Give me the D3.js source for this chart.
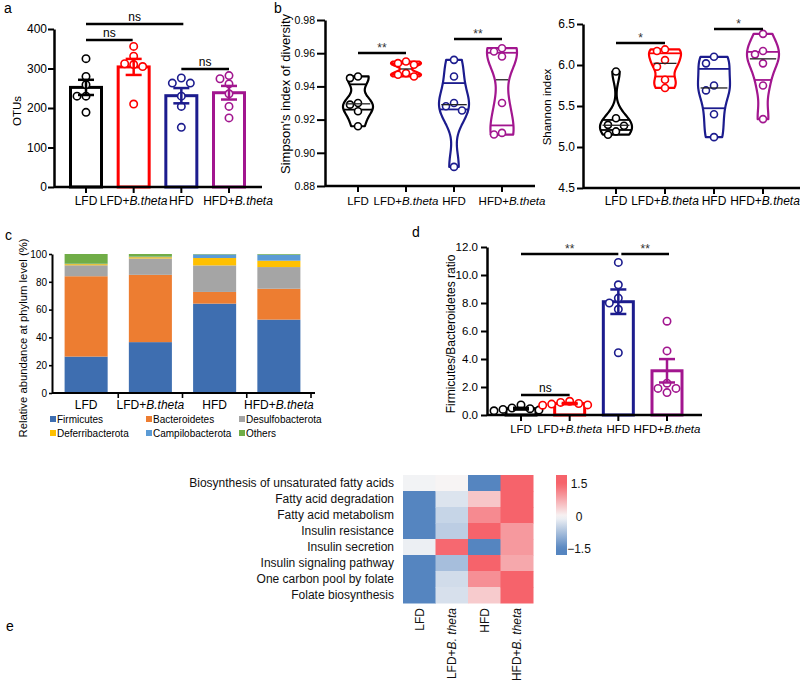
<!DOCTYPE html>
<html><head><meta charset="utf-8">
<script src="https://cdn.jsdelivr.net/npm/d3@7"></script>
<style>body{margin:0;background:#fff}svg{font-family:"Liberation Sans",Arial,sans-serif}</style>
</head><body><svg id="c" width="800" height="683"></svg>
<script>
// ---------------- DATA ----------------
const groups = ["LFD", "LFD+B.theta", "HFD", "HFD+B.theta"];
const groupColors = ["#000000", "#ff0000", "#1c1c8e", "#a2168f"];

// panel a: OTUs (individual mice)
const otuLFD = [325, 280, 259, 230, 230, 189];
const otuLFDB = [356, 331, 312, 310, 305, 210];
const otuHFD = [276, 263, 263, 230, 204, 151];
const otuHFDB = [282, 274, 261, 236, 204, 175];
const otuTicks = [0, 100, 200, 300, 400];

// panel b: Simpson / Shannon
const simpLFD = [0.946, 0.945, 0.930, 0.929, 0.925, 0.916];
const simpLFDB = [0.955, 0.954, 0.953, 0.948, 0.947, 0.946];
const simpHFD = [0.956, 0.946, 0.930, 0.928, 0.9255, 0.8915];
const simpHFDB = [0.963, 0.961, 0.958, 0.930, 0.912, 0.911];
const simpTicks = [0.88, 0.90, 0.92, 0.94, 0.96, 0.98];

const shanLFD = [5.92, 5.35, 5.27, 5.26, 5.19, 5.15];
const shanLFDB = [6.19, 6.17, 6.06, 5.98, 5.82, 5.72];
const shanHFD = [6.10, 6.02, 5.75, 5.69, 5.40, 5.12];
const shanHFDB = [6.38, 6.17, 6.13, 6.02, 5.75, 5.34];
const shanTicks = [4.5, 5.0, 5.5, 6.0, 6.5];

// panel c: phylum relative abundance (%)
const phyla = ["Firmicutes", "Bacteroidetes", "Desulfobacterota", "Deferribacterota", "Campilobacterota", "Others"];
const phylumColors = ["#3e6eb0", "#ed7d31", "#a5a5a5", "#ffc000", "#5b9bd5", "#70ad47"];
const abFirmicutes = [26.2, 36.6, 64.3, 52.8];
const abBacteroidetes = [57.8, 48.4, 8.4, 22.2];
const abDesulfobacterota = [7.9, 11.8, 19.1, 15.6];
const abDeferribacterota = [0.8, 0.9, 5.3, 4.6];
const abCampilobacterota = [0.3, 0.4, 2.6, 4.3];
const abOthers = [7.0, 1.9, 0.3, 0.5];
const abTicks = [0, 20, 40, 60, 80, 100];

// panel d: Firmicutes/Bacteroidetes ratio
const fbLFD = [0.72, 0.50, 0.45, 0.40, 0.35, 0.30];
const fbLFDB = [0.98, 0.90, 0.82, 0.78, 0.72, 0.70];
const fbHFD = [10.9, 9.3, 8.35, 8.0, 7.55, 4.45];
const fbHFDB = [6.7, 4.58, 2.27, 1.9, 1.9, 1.6];
const fbTicks = [0, 2, 4, 6, 8, 10, 12];

// panel e: heatmap (z-scores)
const pathways = ["Biosynthesis of unsaturated fatty acids", "Fatty acid degradation", "Fatty acid metabolism",
  "Insulin resistance", "Insulin secretion", "Insulin signaling pathway", "One carbon pool by folate", "Folate biosynthesis"];
const heatColumns = ["LFD", "LFD+B. theta", "HFD", "HFD+B. theta"];
const hmLFD = [-0.05, -1.5, -1.5, -1.5, -0.1, -1.5, -1.5, -1.5];
const hmLFDB = [0.03, -0.25, -0.45, -0.55, 1.45, -0.75, -0.35, -0.3];
const hmHFD = [-1.5, 0.5, 1.1, 1.5, -1.5, 1.5, 1.05, 0.45];
const hmHFDB = [1.5, 1.5, 1.5, 0.95, 0.95, 0.8, 1.5, 1.5];
const colorTicks = [1.5, 0, -1.5];

// ---------------- HELPERS ----------------
const svg = d3.select("#c");
const FONT = "'Liberation Sans', Arial, sans-serif";

function groupLabel(sel, name) {
  const i = name.indexOf("+");
  if (i < 0) { sel.text(name); return; }
  sel.append("tspan").text(name.slice(0, i + 1));
  sel.append("tspan").attr("font-style", "italic").text(name.slice(i + 1));
}
function styleAxis(g, sw, fs) {
  g.select(".domain").attr("stroke", "#000").attr("stroke-width", sw);
  g.selectAll(".tick line").attr("stroke", "#000").attr("stroke-width", sw * 0.8);
  g.selectAll(".tick text").attr("font-size", fs).attr("font-family", FONT).attr("fill", "#000");
}
function xAxis(g, xs, x0, x1, y, fs, labelDy, lastShift) {
  g.append("line").attr("x1", x0).attr("x2", x1).attr("y1", y).attr("y2", y)
    .attr("stroke", "#000").attr("stroke-width", 2.5);
  groups.forEach((k, i) => {
    g.append("line").attr("x1", xs(k)).attr("x2", xs(k)).attr("y1", y).attr("y2", y + 6)
      .attr("stroke", "#000").attr("stroke-width", 2);
    g.append("text").attr("x", xs(k) + (i === groups.length - 1 ? (lastShift || 0) : 0)).attr("y", y + labelDy).attr("text-anchor", "middle")
      .attr("font-size", fs).call(groupLabel, k);
  });
}
function sig(g, xa, xb, y, label, fs, col) {
  g.append("line").attr("x1", xa).attr("x2", xb).attr("y1", y).attr("y2", y)
    .attr("stroke", "#000").attr("stroke-width", 2.5);
  g.append("text").attr("x", (xa + xb) / 2).attr("y", y - (label === "ns" ? 3 : 1)).attr("text-anchor", "middle")
    .attr("font-size", fs).attr("fill", col || "#000").text(label);
}
function dodge(values, ys, r, step) {
  const placed = [];
  const order = values.map((v, i) => i).sort((a, b) => values[b] - values[a]);
  const offs = new Array(values.length).fill(0);
  const cands = [0, -step, step, -2 * step, 2 * step, -3 * step, 3 * step];
  order.forEach(i => {
    const y = ys(values[i]);
    for (const o of cands) {
      if (placed.every(p => Math.hypot(p[0] - o, p[1] - y) >= 2 * r + 0.5)) { offs[i] = o; placed.push([o, y]); break; }
    }
  });
  return offs;
}
function points(g, vals, xc, ys, color, r, step) {
  const offs = dodge(vals, ys, r, step);
  vals.forEach((v, i) => {
    g.append("circle").attr("cx", xc + offs[i]).attr("cy", ys(v)).attr("r", r)
      .attr("fill", "#fff").attr("stroke", color).attr("stroke-width", 1.6);
  });
}
function sem(a) { return d3.deviation(a) / Math.sqrt(a.length); }
function barChart(g, data, xs, ys, y0, bw) {
  data.forEach((vals, i) => {
    const k = groups[i], c = groupColors[i], m = d3.mean(vals), s = sem(vals), cx = xs(k);
    g.append("rect").attr("x", cx - bw / 2).attr("y", ys(m)).attr("width", bw).attr("height", y0 - ys(m))
      .attr("fill", "none").attr("stroke", c).attr("stroke-width", 3);
    points(g, vals, cx, ys, c, 3.7, 9);
    g.append("line").attr("x1", cx).attr("x2", cx).attr("y1", ys(m - s)).attr("y2", ys(m + s)).attr("stroke", c).attr("stroke-width", 2.5);
    [m - s, m + s].forEach(v => g.append("line").attr("x1", cx - 8).attr("x2", cx + 8).attr("y1", ys(v)).attr("y2", ys(v))
      .attr("stroke", c).attr("stroke-width", 2.5));
  });
}
function violin(g, vals, xc, ys, color, maxW, bwf) {
  const s = vals.slice().sort(d3.ascending);
  const h = bwf * 1.06 * d3.deviation(s) * Math.pow(s.length, -0.2);
  const lo = s[0], hi = s[s.length - 1], n = 60;
  const grid = d3.range(n + 1).map(i => lo + (hi - lo) * i / n);
  const dens = grid.map(v => [v, d3.mean(s, d => Math.exp(-0.5 * ((v - d) / h) ** 2))]);
  const mx = d3.max(dens, d => d[1]);
  const wAt = v => {
    const d = d3.mean(s, q => Math.exp(-0.5 * ((v - q) / h) ** 2));
    return d / mx * maxW;
  };
  const area = d3.area().x0(d => xc - d[1] / mx * maxW).x1(d => xc + d[1] / mx * maxW).y(d => ys(d[0])).curve(d3.curveCatmullRom);
  g.append("path").attr("d", area(dens)).attr("fill", "none").attr("stroke", color).attr("stroke-width", 2.2).attr("stroke-linejoin", "round");
  [0.25, 0.75].forEach(q => {
    const v = d3.quantile(s, q), w = wAt(v);
    g.append("line").attr("x1", xc - w).attr("x2", xc + w).attr("y1", ys(v)).attr("y2", ys(v)).attr("stroke", color).attr("stroke-width", 1.8);
  });
  points(g, vals, xc, ys, color, 3.5, 8);
  const med = d3.median(s), wm = wAt(med);
  g.append("line").attr("x1", xc - wm * 0.85).attr("x2", xc + wm * 0.85).attr("y1", ys(med)).attr("y2", ys(med)).attr("stroke", "#222").attr("stroke-width", 1.3);
}
function panelLetter(x, y, t) {
  svg.append("text").attr("x", x).attr("y", y).attr("font-size", 14).text(t);
}
function yLabel(x, y, t, fs) {
  svg.append("text").attr("transform", `translate(${x},${y}) rotate(-90)`).attr("text-anchor", "middle").attr("font-size", fs).text(t);
}

// ---------------- PANEL A ----------------
{
  const g = svg.append("g");
  const ys = d3.scaleLinear().domain([0, 400]).range([187, 29]);
  const xs = d3.scalePoint().domain(groups).range([86, 229]);
  g.append("g").attr("transform", "translate(54,0)")
    .call(d3.axisLeft(ys).tickValues(otuTicks).tickSize(6).tickPadding(1).tickSizeOuter(0)).call(styleAxis, 2.5, 12);
  barChart(g, [otuLFD, otuLFDB, otuHFD, otuHFDB], xs, ys, 187, 31);
  xAxis(g, xs, 54, 262, 187, 12, 18, 9);
  sig(g, xs(groups[0]), xs(groups[2]) + 2, 24, "ns", 12);
  sig(g, xs(groups[0]), xs(groups[1]) - 1, 40, "ns", 12);
  sig(g, xs(groups[2]), xs(groups[3]), 69, "ns", 12);
  panelLetter(4, 13, "a");
  yLabel(21, 111, "OTUs", 11.5);
}

// ---------------- PANEL B (Simpson) ----------------
{
  const g = svg.append("g");
  const ys = d3.scaleLinear().domain([0.88, 0.98]).range([186, 20]);
  const xs = d3.scalePoint().domain(groups).range([358, 502]);
  g.append("g").attr("transform", "translate(325,0)")
    .call(d3.axisLeft(ys).tickValues(simpTicks).tickFormat(d3.format(".2f")).tickSize(8).tickPadding(2).tickSizeOuter(0)).call(styleAxis, 2.5, 10.5);
  [simpLFD, simpLFDB, simpHFD, simpHFDB].forEach((v, i) => violin(g, v, xs(groups[i]), ys, groupColors[i], 15, 0.6));
  xAxis(g, xs, 325, 535, 186, 11.5, 19, 10);
  sig(g, xs(groups[0]), xs(groups[1]), 53, "**", 12, "#333");
  sig(g, xs(groups[2]), xs(groups[3]), 39, "**", 12, "#333");
  panelLetter(274, 13, "b");
  yLabel(290, 94, "Simpson's index of diversity", 13);
}

// ---------------- PANEL B (Shannon) ----------------
{
  const g = svg.append("g");
  const ys = d3.scaleLinear().domain([4.5, 6.5]).range([188, 24]);
  const xs = d3.scalePoint().domain(groups).range([616, 763]);
  g.append("g").attr("transform", "translate(583,0)")
    .call(d3.axisLeft(ys).tickValues(shanTicks).tickFormat(d3.format(".1f")).tickSize(6).tickPadding(2).tickSizeOuter(0)).call(styleAxis, 2.5, 12);
  [shanLFD, shanLFDB, shanHFD, shanHFDB].forEach((v, i) => violin(g, v, xs(groups[i]), ys, groupColors[i], 16, 0.6));
  xAxis(g, xs, 583, 800, 188, 12, 17, 2);
  sig(g, xs(groups[0]), xs(groups[1]), 43, "*", 12, "#333");
  sig(g, xs(groups[2]), xs(groups[3]), 29, "*", 12, "#333");
  yLabel(551, 107, "Shannon index", 11.5);
}

// ---------------- PANEL C ----------------
{
  const g = svg.append("g");
  const ys = d3.scaleLinear().domain([0, 100]).range([393, 254]);
  const xs = d3.scaleBand().domain(groups).range([54, 311]).paddingInner(0.33).paddingOuter(0.165);
  const cols = [abFirmicutes, abBacteroidetes, abDesulfobacterota, abDeferribacterota, abCampilobacterota, abOthers];
  const rows = groups.map((k, i) => { const o = { group: k }; phyla.forEach((p, j) => o[p] = cols[j][i]); return o; });
  const stack = d3.stack().keys(phyla)(rows);
  stack.forEach((layer, j) => {
    g.selectAll(null).data(layer).enter().append("rect")
      .attr("x", d => xs(d.data.group)).attr("width", xs.bandwidth())
      .attr("y", d => ys(d[1])).attr("height", d => ys(d[0]) - ys(d[1]))
      .attr("fill", phylumColors[j]);
  });
  g.append("g").attr("transform", "translate(52,0)")
    .call(d3.axisLeft(ys).tickValues(abTicks).tickSize(3).tickPadding(2).tickSizeOuter(0)).call(styleAxis, 2, 10);
  g.append("line").attr("x1", 52).attr("x2", 315).attr("y1", 393).attr("y2", 393).attr("stroke", "#000").attr("stroke-width", 2);
  groups.forEach(k => {
    const bx = xs(k) + xs.bandwidth() + xs.step() * 0.33 / 2;
    g.append("line").attr("x1", bx).attr("x2", bx).attr("y1", 393).attr("y2", 398).attr("stroke", "#000").attr("stroke-width", 1.6);
    g.append("text").attr("x", xs(k) + xs.bandwidth() / 2).attr("y", 409).attr("text-anchor", "middle").attr("font-size", 12).call(groupLabel, k);
  });
  const legX = [50, 146, 239];
  phyla.forEach((p, j) => {
    const lx = legX[j % 3], ly = j < 3 ? 419 : 433;
    g.append("rect").attr("x", lx).attr("y", ly - 3).attr("width", 6).attr("height", 6).attr("fill", phylumColors[j]);
    g.append("text").attr("x", lx + 7).attr("y", ly + 3.5).attr("font-size", 10).text(p);
  });
  panelLetter(5, 240, "c");
  yLabel(27, 338, "Relative abundance at phylum level (%)", 11.3);
}

// ---------------- PANEL D ----------------
{
  const g = svg.append("g");
  const ys = d3.scaleLinear().domain([0, 12]).range([415, 247]);
  const xs = d3.scalePoint().domain(groups).range([521, 667]);
  g.append("g").attr("transform", "translate(487,0)")
    .call(d3.axisLeft(ys).tickValues(fbTicks).tickFormat(d3.format(".1f")).tickSize(6).tickPadding(3).tickSizeOuter(0)).call(styleAxis, 2.5, 11.5);
  barChart(g, [fbLFD, fbLFDB, fbHFD, fbHFDB], xs, ys, 415, 30);
  xAxis(g, xs, 487, 702, 415, 11.5, 18, 0);
  sig(g, xs(groups[0]), xs(groups[2]), 254, "**", 12, "#333");
  sig(g, xs(groups[2]) + 3, xs(groups[3]) + 2, 254, "**", 12, "#333");
  sig(g, xs(groups[0]), xs(groups[1]), 395, "ns", 12);
  panelLetter(412, 237, "d");
  yLabel(455, 334, "Firmicutes/Bacteroidetes ratio", 12);
}

// ---------------- PANEL E ----------------
{
  const g = svg.append("g");
  const xs = d3.scaleBand().domain(heatColumns).range([403, 533]);
  const ys = d3.scaleBand().domain(pathways).range([475, 603]);
  const color = d3.scaleLinear().domain([-1.5, 0, 1.5]).range(["#5585c0", "#f7f7f7", "#f6636b"]).clamp(true);
  const cols = [hmLFD, hmLFDB, hmHFD, hmHFDB];
  cols.forEach((vals, ci) => vals.forEach((v, ri) => {
    g.append("rect").attr("x", xs(heatColumns[ci])).attr("y", ys(pathways[ri]))
      .attr("width", xs.bandwidth() + 0.5).attr("height", ys.bandwidth() + 0.5).attr("fill", color(v));
  }));
  pathways.forEach(p => g.append("text").attr("x", 394).attr("y", ys(p) + ys.bandwidth() / 2 + 4.2)
    .attr("text-anchor", "end").attr("font-size", 12).attr("fill", "#111").text(p));
  heatColumns.forEach(c => {
    const t = g.append("text").attr("transform", `translate(${xs(c) + xs.bandwidth() / 2 + 4.5},608) rotate(-90)`)
      .attr("text-anchor", "end").attr("font-size", 12).attr("fill", "#111");
    const i = c.indexOf("+");
    if (i < 0) t.text(c); else { t.append("tspan").text(c.slice(0, i + 1)); t.append("tspan").attr("font-style", "italic").text(c.slice(i + 1)); }
  });
  const cb = d3.scaleLinear().domain([-1.5, 1.5]).range([549, 484]);
  const defs = svg.append("defs");
  const grad = defs.append("linearGradient").attr("id", "cbg").attr("x1", 0).attr("x2", 0).attr("y1", 1).attr("y2", 0);
  const top = cb.invert(475), bot = cb.invert(555);
  d3.range(0, 21).forEach(i => {
    const v = bot + (top - bot) * i / 20;
    grad.append("stop").attr("offset", i / 20).attr("stop-color", color(v));
  });
  g.append("rect").attr("x", 556).attr("y", 475).attr("width", 11).attr("height", 80).attr("fill", "url(#cbg)");
  colorTicks.forEach(v => g.append("text").attr("x", 579).attr("y", cb(v) + 4.2).attr("text-anchor", "middle")
    .attr("font-size", 12).attr("fill", "#111").text(v === 0 ? "0" : d3.format(".1f")(v)));
  panelLetter(6, 631, "e");
}
</script></body></html>
